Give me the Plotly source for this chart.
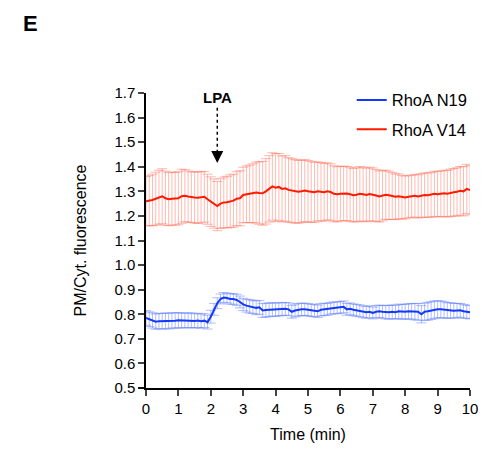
import plotly.graph_objects as go

time_min = [round(i * 0.1, 1) for i in range(101)]

v14_mean = [1.260, 1.262, 1.265, 1.270, 1.276, 1.280, 1.272, 1.268, 1.270, 1.270,
            1.272, 1.280, 1.282, 1.279, 1.276, 1.275, 1.274, 1.276, 1.278, 1.268,
            1.258, 1.250, 1.240, 1.250, 1.255, 1.256, 1.260, 1.262, 1.270, 1.272,
            1.285, 1.288, 1.290, 1.292, 1.295, 1.293, 1.292, 1.300, 1.310, 1.320,
            1.315, 1.318, 1.310, 1.312, 1.306, 1.303, 1.300, 1.298, 1.300, 1.303,
            1.300, 1.298, 1.296, 1.300, 1.298, 1.296, 1.300, 1.297, 1.290, 1.288,
            1.290, 1.292, 1.291, 1.288, 1.284, 1.286, 1.290, 1.288, 1.285, 1.289,
            1.287, 1.283, 1.279, 1.282, 1.286, 1.284, 1.281, 1.278, 1.280, 1.276,
            1.275, 1.278, 1.280, 1.282, 1.279, 1.283, 1.285, 1.284, 1.286, 1.290,
            1.288, 1.290, 1.292, 1.290, 1.294, 1.296, 1.298, 1.302, 1.300, 1.310,
            1.305]

v14_err = [0.100, 0.102, 0.105, 0.108, 0.110, 0.112, 0.110, 0.108, 0.108, 0.107,
           0.108, 0.110, 0.106, 0.104, 0.103, 0.104, 0.105, 0.104, 0.103, 0.102,
           0.101, 0.100, 0.100, 0.101, 0.103, 0.105, 0.107, 0.108, 0.110, 0.112,
           0.113, 0.115, 0.117, 0.120, 0.124, 0.127, 0.130, 0.133, 0.135, 0.137,
           0.138, 0.136, 0.134, 0.133, 0.131, 0.130, 0.129, 0.128, 0.127, 0.126,
           0.125, 0.124, 0.122, 0.120, 0.119, 0.117, 0.116, 0.115, 0.114, 0.112,
           0.111, 0.111, 0.110, 0.110, 0.109, 0.110, 0.111, 0.110, 0.109, 0.109,
           0.108, 0.106, 0.104, 0.102, 0.100, 0.098, 0.096, 0.093, 0.091, 0.089,
           0.087, 0.086, 0.086, 0.087, 0.088, 0.089, 0.090, 0.090, 0.091, 0.092,
           0.092, 0.093, 0.094, 0.095, 0.096, 0.097, 0.098, 0.099, 0.100, 0.100,
           0.100]

n19_mean = [0.785, 0.780, 0.775, 0.770, 0.772, 0.772, 0.773, 0.772, 0.775, 0.774,
            0.776, 0.775, 0.774, 0.776, 0.775, 0.773, 0.775, 0.772, 0.774, 0.768,
            0.790, 0.820, 0.845, 0.862, 0.868, 0.866, 0.862, 0.862, 0.858, 0.850,
            0.840, 0.835, 0.832, 0.830, 0.826, 0.828, 0.815, 0.817, 0.818, 0.820,
            0.818, 0.820, 0.821, 0.822, 0.820, 0.810, 0.815, 0.818, 0.820, 0.820,
            0.818, 0.816, 0.815, 0.812, 0.818, 0.820, 0.820, 0.824, 0.826, 0.826,
            0.828, 0.830, 0.820, 0.822, 0.818, 0.816, 0.814, 0.810, 0.808, 0.810,
            0.805, 0.810, 0.812, 0.810, 0.808, 0.808, 0.810, 0.808, 0.812, 0.810,
            0.810, 0.812, 0.812, 0.810, 0.810, 0.800, 0.810, 0.812, 0.815, 0.818,
            0.820, 0.820, 0.818, 0.815, 0.816, 0.814, 0.815, 0.816, 0.812, 0.810,
            0.808]

n19_err = [0.030, 0.030, 0.031, 0.031, 0.031, 0.032, 0.032, 0.032, 0.031, 0.031,
           0.031, 0.030, 0.030, 0.030, 0.030, 0.029, 0.029, 0.029, 0.028, 0.028,
           0.026, 0.024, 0.022, 0.020, 0.020, 0.020, 0.021, 0.022, 0.023, 0.024,
           0.025, 0.026, 0.027, 0.027, 0.028, 0.028, 0.028, 0.028, 0.028, 0.027,
           0.027, 0.027, 0.026, 0.026, 0.026, 0.026, 0.026, 0.026, 0.025, 0.025,
           0.025, 0.025, 0.025, 0.025, 0.025, 0.025, 0.024, 0.024, 0.024, 0.024,
           0.024, 0.024, 0.024, 0.024, 0.024, 0.024, 0.024, 0.024, 0.024, 0.024,
           0.024, 0.025, 0.025, 0.026, 0.027, 0.028, 0.028, 0.028, 0.029, 0.030,
           0.030, 0.031, 0.032, 0.033, 0.034, 0.035, 0.035, 0.036, 0.036, 0.036,
           0.035, 0.034, 0.033, 0.032, 0.031, 0.030, 0.029, 0.028, 0.028, 0.027,
           0.027]

series_names = ["RhoA N19", "RhoA V14"]
x_ticks = list(range(0, 11))
y_ticks = [0.5, 0.6, 0.7, 0.8, 0.9, 1.0, 1.1, 1.2, 1.3, 1.4, 1.5, 1.6, 1.7]
y_tick_text = ["%.1f" % v for v in y_ticks]
lpa_time = 2.2

FONT = "Liberation Sans, Arial, sans-serif"

W, H = 490, 453
L, T, PW, PH = 146, 93, 331, 303

fig = go.Figure()

fig.add_trace(go.Scatter(
    x=time_min, y=n19_mean, mode="lines", name=series_names[0], legendgroup="a",
    line=dict(color="#1238ff", width=2),
    error_y=dict(type="data", array=n19_err, visible=True, width=5,
                 thickness=1, color="rgba(95,125,255,0.5)"),
))
fig.add_trace(go.Scatter(
    x=time_min, y=v14_mean, mode="lines", name=series_names[1], legendgroup="b",
    line=dict(color="#ff1a00", width=2),
    error_y=dict(type="data", array=v14_err, visible=True, width=5,
                 thickness=1, color="rgba(255,110,90,0.48)"),
))

# LPA dashed arrow
fig.add_shape(type="line", xref="x", yref="y", x0=lpa_time, x1=lpa_time,
              y0=1.64, y1=1.455, line=dict(color="black", width=1.5, dash="dot"))
fig.add_annotation(x=lpa_time, y=1.415, ax=lpa_time, ay=1.47, xref="x", yref="y",
                   axref="x", ayref="y", text="", showarrow=True,
                   arrowhead=2, arrowsize=1.6, arrowwidth=1.5, arrowcolor="black",
                   standoff=0, startstandoff=0)
fig.add_annotation(x=lpa_time, y=1.7, xref="x", yref="y", text="<b>LPA</b>",
                   showarrow=False, yanchor="middle", yshift=-4,
                   font=dict(family=FONT, size=15, color="black"))

# small extension of x axis to the left of the y axis
fig.add_shape(type="line", xref="paper", yref="paper", x0=-8 / PW, x1=0, y0=0, y1=0,
              line=dict(color="black", width=1.5))

# panel label
fig.add_annotation(x=(28 - L) / PW, y=1 + (T - 22) / PH, xref="paper", yref="paper",
                   text="<b>E</b>", showarrow=False, xanchor="center", yanchor="middle",
                   font=dict(family=FONT, size=22, color="black"))

fig.update_layout(
    width=W, height=H,
    margin=dict(l=L, r=W - L - PW, t=T, b=H - T - PH),
    paper_bgcolor="white", plot_bgcolor="white",
    font=dict(family=FONT, size=15, color="black"),
    showlegend=True,
    legend=dict(x=0.635, y=1.035, xanchor="left", yanchor="top",
                bgcolor="rgba(0,0,0,0)", font=dict(family=FONT, size=16.5),
                itemwidth=30, tracegroupgap=5),
    xaxis=dict(range=[0, 10], tickvals=x_ticks, ticks="outside", ticklen=6,
               tickwidth=1.5, showline=True, linecolor="black", linewidth=1.5,
               showgrid=False, zeroline=False, tickfont=dict(size=15),
               ticklabeloverflow="allow",
               title=dict(text="Time (min)", font=dict(family=FONT, size=16), standoff=13)),
    yaxis=dict(range=[0.5, 1.7], tickvals=y_ticks, ticktext=y_tick_text,
               ticks="outside", ticklen=6, tickwidth=1.5, showline=True,
               linecolor="black", linewidth=1.5, showgrid=False, zeroline=False,
               tickfont=dict(size=15),
               title=dict(text="PM/Cyt. fluorescence", font=dict(family=FONT, size=16),
                          standoff=24)),
)

fig.write_html("out.html",
               config={"displayModeBar": False},
               post_script="document.body.style.margin='0';"
                           "document.body.style.overflow='hidden';")
